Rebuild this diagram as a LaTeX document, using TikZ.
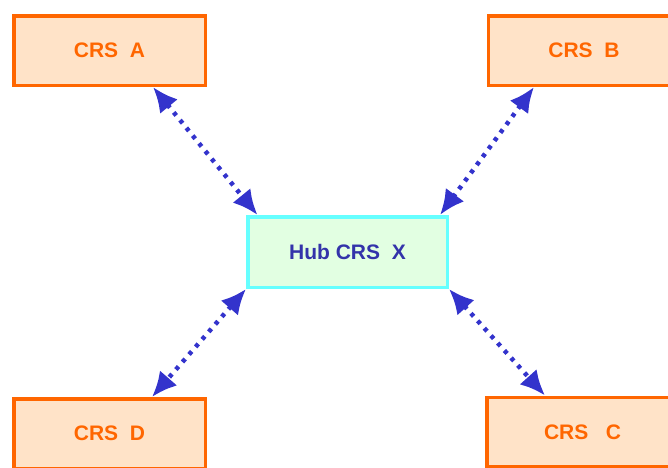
\documentclass[tikz,border=0pt]{standalone}
\usepackage{fontspec}
\setmainfont{Liberation Sans}
\usepackage{xcolor}
\usetikzlibrary{shapes.geometric, arrows.meta, positioning}

\definecolor{crsorange}{HTML}{FF6600}
\definecolor{crsfill}{HTML}{FFE3C8}
\definecolor{hubfill}{HTML}{E2FFE2}
\definecolor{hubline}{HTML}{66FFFF}
\definecolor{hubtext}{HTML}{3333AA}
\definecolor{linkblue}{HTML}{3333CC}

\tikzset{
    crsbox/.style={draw=crsorange, fill=crsfill, line width=3.5pt, minimum width=191.5pt, minimum height=69.5pt, inner sep=0pt, text=crsorange, font=\fontsize{21}{25}\selectfont\bfseries},
    hubbox/.style={draw=hubline, fill=hubfill, line width=3.5pt, minimum width=199.5pt, minimum height=70.5pt, inner sep=0pt, text=hubtext, font=\fontsize{21}{25}\selectfont\bfseries},
    link/.style={{Latex[length=25pt,width=23pt]}-{Latex[length=25pt,width=23pt]}, draw=linkblue, line width=4.5pt, dash pattern=on 4pt off 6pt}
}

\begin{document}
\begin{tikzpicture}[x={(1pt,0)}, y={(0,-1pt)}]
        \useasboundingbox (0,0) rectangle (668,467);

        \node[crsbox] (crsA) at (109.5,50.5) {CRS\ \ A};
        \node[crsbox] (crsB) at (584,50.5) {CRS\ \ B};
        \node[hubbox] (hub) at (347.5,252) {Hub CRS\ \ X};
        \node[crsbox] (crsD) at (109.5,433.5) {CRS\ \ D};
        \node[crsbox] (crsC) at (582.5,432) {CRS\ \ \ C};

        % A <-> Hub
        \draw[link] ([xshift=43.5pt]crsA.south) -- ([xshift=-90pt]hub.north);

        % B <-> Hub
        \draw[link] ([xshift=-50pt]crsB.south) -- ([xshift=92.5pt]hub.north);

        % Hub <-> D
        \draw[link] (hub.south west) -- ([xshift=42.5pt]crsD.north);

        % Hub <-> C
        \draw[link] (hub.south east) -- ([xshift=-37.5pt]crsC.north);
    \end{tikzpicture}
\end{document}
